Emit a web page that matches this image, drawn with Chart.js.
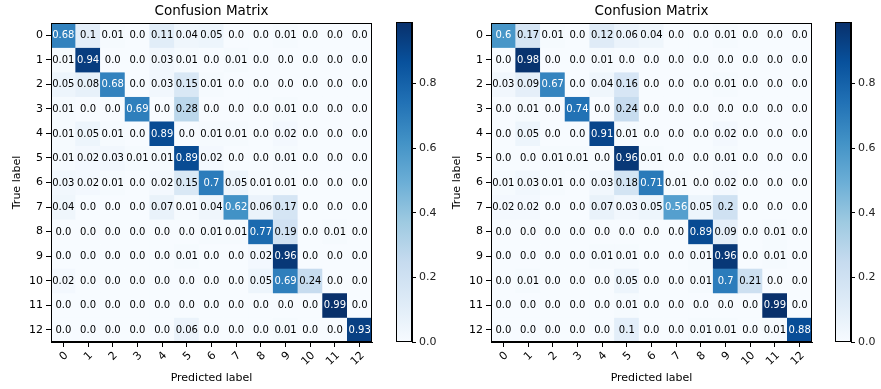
<!DOCTYPE html>
<html>
<head>
<meta charset="utf-8">
<script src="https://cdn.jsdelivr.net/npm/chart.js@4/dist/chart.umd.min.js"></script>
<style>
  body { margin: 0; background: #fff; width: 881px; height: 389px; position: relative; overflow: hidden; }
  canvas { position: absolute; top: 0; }
</style>
</head>
<body>
<canvas id="cmA" width="390" height="389" style="left:0"></canvas>
<canvas id="cbA" width="50" height="389" style="left:390px"></canvas>
<canvas id="cmB" width="390" height="389" style="left:440px"></canvas>
<canvas id="cbB" width="51" height="389" style="left:830px"></canvas>
<script>
const predLabels = ['0', '1', '2', '3', '4', '5', '6', '7', '8', '9', '10', '11', '12']
const trueLabels = ['0', '1', '2', '3', '4', '5', '6', '7', '8', '9', '10', '11', '12']
const colorbarTicks = [0, 0.2, 0.4, 0.6, 0.8]

const matrixA = [
    [0.68, 0.1, 0.01, 0.0, 0.11, 0.04, 0.05, 0.0, 0.0, 0.01, 0.0, 0.0, 0.0],
    [0.01, 0.94, 0.0, 0.0, 0.03, 0.01, 0.0, 0.01, 0.0, 0.0, 0.0, 0.0, 0.0],
    [0.05, 0.08, 0.68, 0.0, 0.03, 0.15, 0.01, 0.0, 0.0, 0.0, 0.0, 0.0, 0.0],
    [0.01, 0.0, 0.0, 0.69, 0.0, 0.28, 0.0, 0.0, 0.0, 0.01, 0.0, 0.0, 0.0],
    [0.01, 0.05, 0.01, 0.0, 0.89, 0.0, 0.01, 0.01, 0.0, 0.02, 0.0, 0.0, 0.0],
    [0.01, 0.02, 0.03, 0.01, 0.01, 0.89, 0.02, 0.0, 0.0, 0.01, 0.0, 0.0, 0.0],
    [0.03, 0.02, 0.01, 0.0, 0.02, 0.15, 0.7, 0.05, 0.01, 0.01, 0.0, 0.0, 0.0],
    [0.04, 0.0, 0.0, 0.0, 0.07, 0.01, 0.04, 0.62, 0.06, 0.17, 0.0, 0.0, 0.0],
    [0.0, 0.0, 0.0, 0.0, 0.0, 0.0, 0.01, 0.01, 0.77, 0.19, 0.0, 0.01, 0.0],
    [0.0, 0.0, 0.0, 0.0, 0.0, 0.01, 0.0, 0.0, 0.02, 0.96, 0.0, 0.0, 0.0],
    [0.02, 0.0, 0.0, 0.0, 0.0, 0.0, 0.0, 0.0, 0.05, 0.69, 0.24, 0.0, 0.0],
    [0.0, 0.0, 0.0, 0.0, 0.0, 0.0, 0.0, 0.0, 0.0, 0.0, 0.0, 0.99, 0.0],
    [0.0, 0.0, 0.0, 0.0, 0.0, 0.06, 0.0, 0.0, 0.0, 0.01, 0.0, 0.0, 0.93]
]

const matrixB = [
    [0.6, 0.17, 0.01, 0.0, 0.12, 0.06, 0.04, 0.0, 0.0, 0.01, 0.0, 0.0, 0.0],
    [0.0, 0.98, 0.0, 0.0, 0.01, 0.0, 0.0, 0.0, 0.0, 0.0, 0.0, 0.0, 0.0],
    [0.03, 0.09, 0.67, 0.0, 0.04, 0.16, 0.0, 0.0, 0.0, 0.01, 0.0, 0.0, 0.0],
    [0.0, 0.01, 0.0, 0.74, 0.0, 0.24, 0.0, 0.0, 0.0, 0.0, 0.0, 0.0, 0.0],
    [0.0, 0.05, 0.0, 0.0, 0.91, 0.01, 0.0, 0.0, 0.0, 0.02, 0.0, 0.0, 0.0],
    [0.0, 0.0, 0.01, 0.01, 0.0, 0.96, 0.01, 0.0, 0.0, 0.01, 0.0, 0.0, 0.0],
    [0.01, 0.03, 0.01, 0.0, 0.03, 0.18, 0.71, 0.01, 0.0, 0.02, 0.0, 0.0, 0.0],
    [0.02, 0.02, 0.0, 0.0, 0.07, 0.03, 0.05, 0.56, 0.05, 0.2, 0.0, 0.0, 0.0],
    [0.0, 0.0, 0.0, 0.0, 0.0, 0.0, 0.0, 0.0, 0.89, 0.09, 0.0, 0.01, 0.0],
    [0.0, 0.0, 0.0, 0.0, 0.01, 0.01, 0.0, 0.0, 0.01, 0.96, 0.0, 0.01, 0.0],
    [0.0, 0.01, 0.0, 0.0, 0.0, 0.05, 0.0, 0.0, 0.01, 0.7, 0.21, 0.0, 0.0],
    [0.0, 0.0, 0.0, 0.0, 0.0, 0.01, 0.0, 0.0, 0.0, 0.0, 0.0, 0.99, 0.0],
    [0.0, 0.0, 0.0, 0.0, 0.0, 0.1, 0.0, 0.0, 0.01, 0.01, 0.0, 0.01, 0.88]
]

// matplotlib "Blues" anchors
const blues = ['#f7fbff', '#deebf7', '#c6dbef', '#9ecae1', '#6baed6', '#4292c6', '#2171b5', '#08519c', '#08306b']
const FONT = 'DejaVu Sans'

function hexRgb(h) { return [1, 3, 5].map(i => parseInt(h.substr(i, 2), 16)) }

function bluesColor(t) {
    t = Math.min(1, Math.max(0, t)) * (blues.length - 1)
    const i = Math.min(Math.floor(t), blues.length - 2)
    const f = t - i
    const a = hexRgb(blues[i]), b = hexRgb(blues[i + 1])
    return 'rgb(' + a.map((c, k) => Math.round(c + (b[k] - c) * f)).join(',') + ')'
}

const fmt = v => Number.isInteger(v) ? v.toFixed(1) : String(v)

const frame = {
    id: 'frame',
    afterDraw(chart) {
        const { ctx, chartArea: a } = chart
        ctx.save()
        ctx.strokeStyle = '#000'
        ctx.lineWidth = 1
        ctx.strokeRect(Math.round(a.left) + 0.5, Math.round(a.top) + 0.5,
            Math.round(a.right) - Math.round(a.left) - 1, Math.round(a.bottom) - Math.round(a.top) - 1)
        ctx.restore()
    }
}

const cellText = {
    id: 'cellText',
    afterDatasetsDraw(chart) {
        const { ctx } = chart
        const vmax = chart.config.options.vmax
        ctx.save()
        ctx.font = '10px "' + FONT + '"'
        ctx.textAlign = 'center'
        ctx.textBaseline = 'middle'
        chart.data.datasets.forEach((ds, i) => {
            chart.getDatasetMeta(i).data.forEach((el, j) => {
                const v = ds.values[j]
                ctx.fillStyle = v > vmax / 2 ? '#fff' : '#000'
                ctx.fillText(fmt(v), el.x, (el.y + el.base) / 2 + 0.5)
            })
        })
        ctx.restore()
    }
}

function drawMatrix(id, matrix) {
    const vmax = Math.max(...matrix.flat())
    new Chart(document.getElementById(id), {
        type: 'bar',
        data: {
            labels: predLabels,
            datasets: trueLabels.map((lab, r) => ({
                label: lab,
                values: matrix[r],
                data: matrix[r].map(() => [r, r + 1]),
                backgroundColor: matrix[r].map(v => bluesColor(v / vmax)),
                barPercentage: 1, categoryPercentage: 1, grouped: false, borderWidth: 0
            }))
        },
        options: {
            vmax: vmax,
            responsive: false, animation: false, events: [],
            layout: { padding: { left: 0, right: 18, top: 0, bottom: 0 } },
            plugins: {
                legend: { display: false },
                tooltip: { enabled: false },
                title: {
                    display: true, text: 'Confusion Matrix', fullSize: false, color: '#000',
                    font: { family: FONT, size: 13.5, weight: 'normal' },
                    padding: { top: 3.5, bottom: 3.3 }
                }
            },
            scales: {
                x: {
                    grid: { offset: false, drawOnChartArea: false, color: '#000', tickLength: 5 },
                    border: { color: '#000' },
                    ticks: { autoSkip: false, minRotation: 45, maxRotation: 45, labelOffset: 3, padding: 2, color: '#000', font: { family: FONT, size: 11 } },
                    title: { display: true, text: 'Predicted label', color: '#000', font: { family: FONT, size: 11 }, padding: { top: 0, bottom: 4 } },
                    afterFit: s => { s.height = 47 }
                },
                y: {
                    type: 'linear', min: 0, max: 13, reverse: true,
                    afterBuildTicks: s => { s.ticks = trueLabels.map((l, i) => ({ value: i + 0.5 })) },
                    grid: { drawOnChartArea: false, color: '#000', tickLength: 5 },
                    border: { color: '#000' },
                    ticks: { callback: (v, i) => trueLabels[i], padding: 3, color: '#000', font: { family: FONT, size: 11 } },
                    title: { display: true, text: 'True label', color: '#000', font: { family: FONT, size: 11 }, padding: { top: 10.5, bottom: 0 } },
                    afterFit: s => { s.width = 51 }
                }
            }
        },
        plugins: [cellText, frame]
    })
}

function drawColorbar(id, matrix, padLeft) {
    const vmax = Math.max(...matrix.flat())
    const el = document.getElementById(id)
    new Chart(el, {
        type: 'bar',
        data: {
            labels: [''],
            datasets: [{
                data: [[0, vmax]],
                barPercentage: 1, categoryPercentage: 1, borderWidth: 0,
                backgroundColor: c => {
                    const a = c.chart.chartArea
                    if (!a) return blues[0]
                    const g = c.chart.ctx.createLinearGradient(0, a.bottom, 0, a.top)
                    blues.forEach((col, i) => g.addColorStop(i / (blues.length - 1), col))
                    return g
                }
            }]
        },
        options: {
            responsive: false, animation: false, events: [],
            layout: { padding: { left: padLeft, right: 0, top: 22, bottom: 47 } },
            plugins: { legend: { display: false }, tooltip: { enabled: false } },
            scales: {
                x: { display: false },
                y: {
                    position: 'right', min: 0, max: vmax,
                    afterBuildTicks: s => { s.ticks = colorbarTicks.map(v => ({ value: v })) },
                    grid: { drawOnChartArea: false, color: '#000', tickLength: 4 },
                    border: { color: '#000' },
                    ticks: { callback: v => v.toFixed(1), padding: 3, color: '#222', font: { family: FONT, size: 11 } },
                    afterFit: s => { s.width = el.width - padLeft - 16 }
                }
            }
        },
        plugins: [frame]
    })
}

drawMatrix('cmA', matrixA)
drawColorbar('cbA', matrixA, 6)
drawMatrix('cmB', matrixB)
drawColorbar('cbB', matrixB, 5)
</script>
</body>
</html>
